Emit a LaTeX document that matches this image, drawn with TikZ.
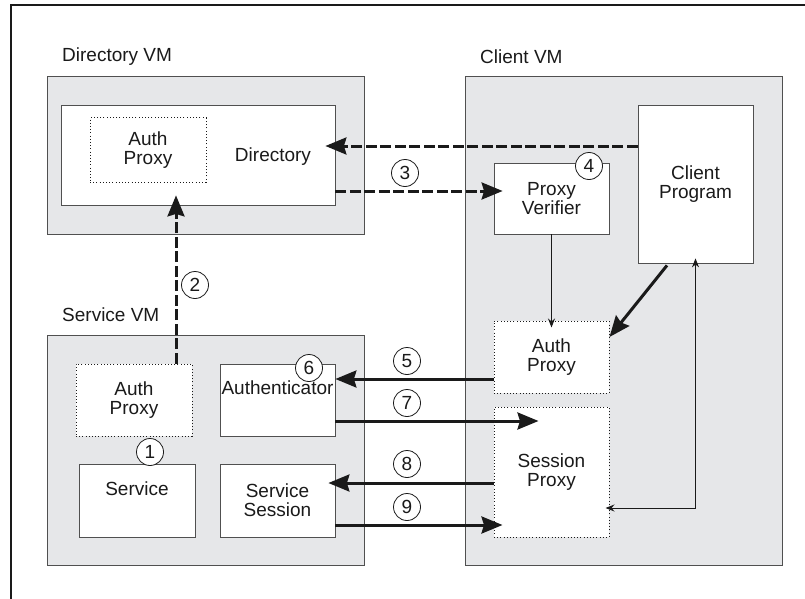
\documentclass[tikz,border=0pt]{standalone}
\usepackage{fontspec}
\setmainfont{Liberation Sans}
\usepackage{xcolor}
\usepackage{tikz}
\usetikzlibrary{
    arrows.meta,
    positioning,
    calc
}

\definecolor{vmgray}{HTML}{E6E7E9}
\definecolor{edgegray}{HTML}{505050}
\definecolor{inkblack}{HTML}{1A1A1A}

\begin{document}
\begin{tikzpicture}[
    x=1pt, y=-1pt,
    every node/.style={font=\fontsize{19}{19}\selectfont, text=inkblack},
    vm/.style={
        rectangle,
        draw=edgegray,
        fill=vmgray,
        line width=0.9pt,
        inner sep=0pt
    },
    block/.style={
        rectangle,
        draw=edgegray,
        fill=white,
        line width=0.8pt,
        align=center,
        inner sep=1pt,
        minimum width=115pt
    },
    proxy/.style={
        block,
        draw=inkblack,
        line width=1pt,
        dash pattern=on 1pt off 2.2pt
    },
    vmlabel/.style={anchor=west, inner sep=0pt},
    stepno/.style={
        circle,
        draw=inkblack,
        fill=white,
        line width=0.8pt,
        minimum size=27pt,
        inner sep=0pt
    },
    arrow/.style={draw=inkblack, line width=3pt, -{Stealth[length=21pt, width=17pt, inset=2.5pt]}},
    dasharrow/.style={arrow, dash pattern=on 11pt off 3.5pt},
    thinarrow/.style={draw=inkblack, line width=0.9pt, -{Stealth[length=9pt, width=7pt]}}
]

\useasboundingbox (0,0) rectangle (805,599);

% frame
\draw[line width=2.4pt, inkblack] (11,599) -- (11,5) -- (805,5);

% ============================================================
% VMs
% ============================================================
\node[vmlabel] (dirvmlbl) at (62,57) {Directory VM};
\node[vmlabel] (clivmlbl) at (480,57) {Client VM};
\node[vmlabel] (svcvmlbl) at (62,315) {Service VM};

\node[vm, minimum width=317pt, minimum height=158pt] (dirvm) at (205.5,155) {};
\node[vm, minimum width=317pt, minimum height=230pt] (svcvm) at (205.5,450) {};
\node[vm, minimum width=317pt, minimum height=489pt] (clivm) at (623.5,320.5) {};

% ============================================================
% NODES
% ============================================================

% Directory VM
\node[block, minimum width=274pt, minimum height=100pt] (directory) at (198,155) {};
\node[proxy, minimum width=116pt, minimum height=64pt] (dirauth) at (148,150) {Auth\\Proxy};
\node (dirlbl) at (273,157) {Directory};

% Client VM
\node[block, minimum height=158pt] (client) at (695.5,184) {Client\\Program};
\node[block, minimum height=71pt] (verifier) at (551.5,198.5) {Proxy\\Verifier};
\node[proxy, minimum height=72pt] (cliauth) at (551.5,357) {Auth\\Proxy};
\node[proxy, minimum height=130pt] (sessproxy) at (551.5,472) {Session\\Proxy};

% Service VM
\node[proxy, minimum width=116pt, minimum height=72pt] (svcauth) at (134,400) {Auth\\Proxy};
\node[block, minimum height=72pt, inner sep=0pt] (authr) at (277.5,400) {Authenticator\\ \strut};
\node[block, minimum width=116pt, minimum height=73pt] (service) at (137,500.5) {Service\\ \strut};
\node[block, minimum height=73pt] (svcsess) at (277.5,500.5) {Service\\Session};

% ============================================================
% CONNECTIONS
% ============================================================

% registration and lookup
\draw[dasharrow, shorten >=-10pt] ([xshift=42pt]svcauth.north) -- ([xshift=-22pt]directory.south);
\draw[dasharrow, shorten >=-10pt] ([yshift=38pt]client.west) -- ([yshift=9pt]directory.east);
\draw[dasharrow, shorten >=-9pt] ([yshift=-36pt]directory.east) -- ([yshift=7.5pt]verifier.west);

% inside the client
\draw[thinarrow, shorten >=-7pt] (verifier.south) -- (cliauth.north);
\draw[arrow] ([xshift=-28.5pt,yshift=-2pt]client.south) -- ([yshift=20pt]cliauth.east);
\draw[thinarrow, {Stealth[length=9pt, width=7pt]}-{Stealth[length=9pt, width=7pt]}, shorten <=-4pt, shorten >=-5pt]
    ([yshift=-36pt]sessproxy.east) -| (client.south);

% authentication and session
\draw[arrow] ([yshift=-22pt]cliauth.west) -- ([yshift=21pt]authr.east);
\draw[arrow, shorten >=-45pt] ([yshift=-21pt]authr.east) -- ([yshift=51pt]sessproxy.west);
\draw[arrow, shorten >=-7pt] ([yshift=-11pt]sessproxy.west) -- ([yshift=17.5pt]svcsess.east);
\draw[arrow, shorten >=-9pt] ([yshift=-24.5pt]svcsess.east) -- ([yshift=-53pt]sessproxy.west);

% ============================================================
% STEPS
% ============================================================
\node[stepno] (s1) at (150,452) {1};
\node[stepno] (s2) at (195,285) {2};
\node[stepno] (s3) at (405,173) {3};
\node[stepno] (s4) at (589,166) {4};
\node[stepno] (s5) at (407,361) {5};
\node[stepno] (s6) at (309,368) {6};
\node[stepno] (s7) at (407,403) {7};
\node[stepno] (s8) at (407,464) {8};
\node[stepno] (s9) at (407,507) {9};

\end{tikzpicture}
\end{document}
